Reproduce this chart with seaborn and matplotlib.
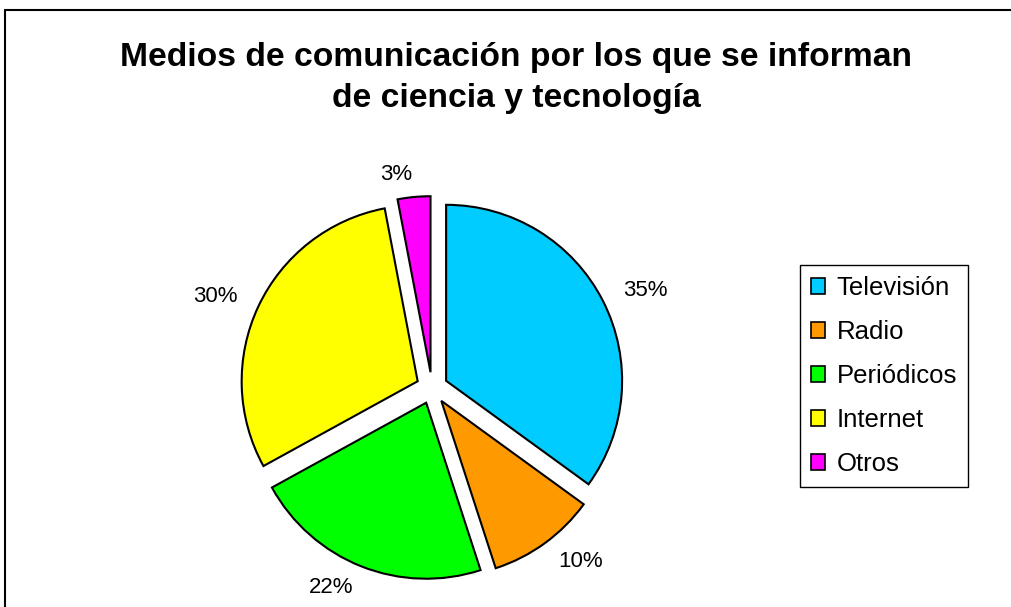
import matplotlib
matplotlib.use("Agg")
import matplotlib.pyplot as plt
import seaborn as sns
from matplotlib.patches import Patch
from matplotlib.lines import Line2D

# datos
categorias = ["Televisión", "Radio", "Periódicos", "Internet", "Otros"]
porcentajes = [35, 10, 22, 30, 3]
colores = ["#00CCFF", "#FF9900", "#00FF00", "#FFFF00", "#FF00FF"]
titulo = "Medios de comunicación por los que se informan\nde ciencia y tecnología"

sns.set_theme(style="white")
plt.rcParams["font.family"] = ["Liberation Sans", "DejaVu Sans"]
plt.rcParams["text.color"] = "black"

W, H = 1011, 607
fig = plt.figure(figsize=(W / 100, H / 100), dpi=100)
fig.patch.set_facecolor("white")

# marco (solo arriba e izquierda visibles)
fig.add_artist(Line2D([5 / W, 1.0], [1 - 10 / H, 1 - 10 / H], color="black", lw=1.5))
fig.add_artist(Line2D([5 / W, 5 / W], [1 - 10 / H, 0.0], color="black", lw=1.5))

# ejes del pastel: centro (432, 388) px, radio 176 px
R = 176
cx, cy = 432, H - 388
lim = 1.5
side = 2 * lim * R
ax = fig.add_axes([(cx - side / 2) / W, (cy - side / 2) / H, side / W, side / H])
palette = sns.color_palette(colores)
wedges, texts = ax.pie(
    porcentajes,
    colors=palette,
    startangle=90,
    counterclock=False,
    explode=[0.09] * len(porcentajes),
    labels=[f"{p}%" for p in porcentajes],
    labeldistance=1.13,
    wedgeprops=dict(edgecolor="black", linewidth=1.5),
    textprops=dict(fontsize=16, color="black"),
)
for t in texts:
    t.set_clip_on(False)
ax.set_xlim(-lim, lim)
ax.set_ylim(-lim, lim)
ax.set_aspect("equal")
ax.axis("off")

fig.text(516 / W, 1 - 78 / H, titulo, ha="center", va="center", color="black",
         fontsize=24.2, fontweight="bold", linespacing=1.45)

handles = [Patch(facecolor=c, edgecolor="black", linewidth=1.2) for c in colores]
leg = fig.legend(handles, categorias, loc="center left",
                 bbox_to_anchor=(800 / W, 1 - 376 / H),
                 frameon=True, fancybox=False, framealpha=1, edgecolor="black",
                 fontsize=18.5, handlelength=0.55, handleheight=0.55, handletextpad=0.45,
                 labelspacing=0.78, borderpad=0.42, borderaxespad=0)
leg.get_frame().set_linewidth(1.0)
for t in leg.get_texts():
    t.set_color("black")

fig.savefig("out.png", dpi=100)
